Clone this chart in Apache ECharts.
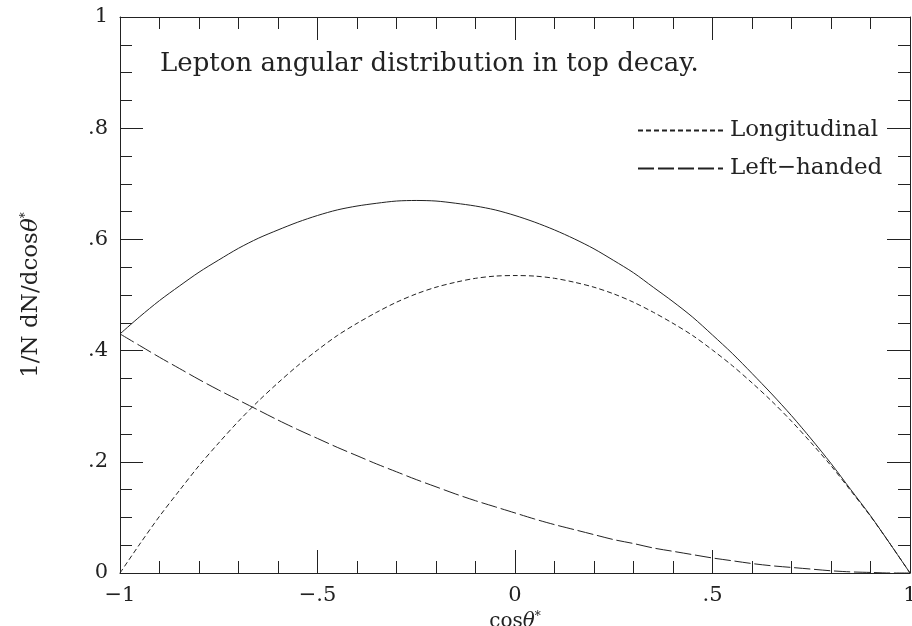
<!DOCTYPE html>
<html>
<head>
<meta charset="utf-8">
<script src="https://cdn.jsdelivr.net/npm/echarts@6/dist/echarts.min.js"></script>
<style>
  html, body { margin: 0; padding: 0; background: #fff; }
  #chart { width: 912px; height: 626px; }
</style>
</head>
<body>
<div id="chart"></div>
<script>
// cos theta* sample points
const cosTheta = [-1, -0.95, -0.9, -0.85, -0.8, -0.75, -0.7, -0.65, -0.6, -0.55, -0.5,
  -0.45, -0.4, -0.35, -0.3, -0.25, -0.2, -0.15, -0.1, -0.05, 0,
  0.05, 0.1, 0.15, 0.2, 0.25, 0.3, 0.35, 0.4, 0.45, 0.5,
  0.55, 0.6, 0.65, 0.7, 0.75, 0.8, 0.85, 0.9, 0.95, 1];
// total (solid)
const totalVals = [0.430, 0.461, 0.490, 0.516, 0.541, 0.563, 0.584, 0.602, 0.617, 0.631, 0.643,
  0.653, 0.660, 0.665, 0.669, 0.670, 0.669, 0.665, 0.660, 0.653, 0.643,
  0.631, 0.617, 0.601, 0.583, 0.562, 0.540, 0.514, 0.488, 0.460, 0.428,
  0.395, 0.359, 0.322, 0.283, 0.241, 0.197, 0.150, 0.103, 0.052, 0];
// longitudinal (short dash)
const longVals = [0, 0.052, 0.102, 0.148, 0.193, 0.234, 0.273, 0.309, 0.342, 0.373, 0.401,
  0.427, 0.449, 0.469, 0.487, 0.502, 0.514, 0.523, 0.530, 0.534, 0.535,
  0.534, 0.530, 0.523, 0.514, 0.502, 0.487, 0.469, 0.449, 0.427, 0.401,
  0.373, 0.342, 0.309, 0.273, 0.234, 0.193, 0.148, 0.102, 0.052, 0];
// left-handed (long dash)
const leftVals = [0.430, 0.409, 0.388, 0.368, 0.348, 0.329, 0.311, 0.293, 0.275, 0.258, 0.242,
  0.226, 0.211, 0.196, 0.182, 0.168, 0.155, 0.142, 0.130, 0.119, 0.108,
  0.097, 0.087, 0.078, 0.069, 0.060, 0.053, 0.045, 0.039, 0.033, 0.027,
  0.022, 0.017, 0.013, 0.010, 0.007, 0.004, 0.002, 0.001, 0.000, 0];

const xTickLabels = { '-1': '\u22121', '-0.5': '\u2212.5', '0': '0', '0.5': '.5', '1': '1' };
const yTickLabels = { '0': '0', '0.2': '.2', '0.4': '.4', '0.6': '.6', '0.8': '.8', '1': '1' };

const FONT = 'DejaVu Serif';
const INK = '#222';

const pairs = vals => cosTheta.map((x, i) => [x, vals[i]]);

const myChart = echarts.init(document.getElementById('chart'));

const axisBase = {
  type: 'value',
  axisLine: { show: true, onZero: false, lineStyle: { color: INK, width: 1 } },
  axisTick: { show: true, inside: true, length: 23, lineStyle: { color: INK } },
  minorTick: { show: true, length: 12, lineStyle: { color: INK } },
  splitLine: { show: false },
  minorSplitLine: { show: false },
};

// axis name with italic theta and superscript star
const nameRich = size => ({
  a: { fontFamily: FONT, fontSize: size, color: INK },
  t: { fontFamily: FONT, fontSize: size, fontStyle: 'italic', color: INK },
  s: { fontFamily: FONT, fontSize: 12, color: INK, verticalAlign: 'top', padding: [0, 0, 10, 0] },
});

const option = {
  backgroundColor: '#fff',
  animation: false,
  title: {
    text: 'Lepton angular distribution in top decay.',
    left: 155,
    top: 46,
    textStyle: { fontFamily: FONT, fontSize: 26, fontWeight: 'normal', color: INK },
  },
  legend: {
    orient: 'vertical',
    left: 632,
    top: 114,
    itemWidth: 85,
    itemHeight: 10,
    itemGap: 15,
    itemStyle: { opacity: 0, borderWidth: 0 },
    textStyle: { fontFamily: FONT, fontSize: 23, color: INK, padding: [0, 0, 0, 2] },
    data: ['Longitudinal', 'Left\u2212handed'],
  },
  grid: {
    left: 120,
    right: 2,
    top: 17,
    bottom: 53,
    containLabel: false,
    outerBoundsMode: 'none',
  },
  xAxis: [
    Object.assign({}, axisBase, {
      min: -1, max: 1, interval: 0.5,
      position: 'bottom',
      minorTick: Object.assign({}, axisBase.minorTick, { splitNumber: 5 }),
      axisLabel: {
        margin: 12, fontFamily: FONT, fontSize: 21, color: INK,
        formatter: v => xTickLabels[String(v)] || '',
      },
      name: '{a|cos}{t|\u03b8}{s|*}',
      nameLocation: 'middle',
      nameGap: 31,
      nameTextStyle: { rich: nameRich(20) },
    }),
    Object.assign({}, axisBase, {
      min: -1, max: 1, interval: 0.5,
      position: 'top',
      minorTick: Object.assign({}, axisBase.minorTick, { splitNumber: 5 }),
      axisLabel: { show: false },
    }),
  ],
  yAxis: [
    Object.assign({}, axisBase, {
      min: 0, max: 1, interval: 0.2,
      position: 'left',
      minorTick: Object.assign({}, axisBase.minorTick, { splitNumber: 4 }),
      axisLabel: {
        margin: 12, fontFamily: FONT, fontSize: 21, color: INK,
        formatter: v => yTickLabels[String(Math.round(v * 10) / 10)] || '',
      },
      name: '{a|1/N dN/dcos}{t|\u03b8}{s|*}',
      nameLocation: 'middle',
      nameGap: 77,
      nameTextStyle: { rich: nameRich(23) },
    }),
    Object.assign({}, axisBase, {
      min: 0, max: 1, interval: 0.2,
      position: 'right',
      minorTick: Object.assign({}, axisBase.minorTick, { splitNumber: 4 }),
      axisLabel: { show: false },
    }),
  ],
  series: [
    {
      name: 'Total',
      type: 'line',
      smooth: 0.3,
      symbol: 'none',
      lineStyle: { color: INK, width: 1, type: 'solid' },
      data: pairs(totalVals),
    },
    {
      name: 'Longitudinal',
      type: 'line',
      smooth: 0.3,
      symbol: 'none',
      lineStyle: { color: INK, width: 1, type: [5, 3] },
      itemStyle: { color: INK },
      data: pairs(longVals),
    },
    {
      name: 'Left\u2212handed',
      type: 'line',
      smooth: 0.3,
      symbol: 'none',
      lineStyle: { color: INK, width: 1, type: [16, 4] },
      itemStyle: { color: INK },
      data: pairs(leftVals),
    },
  ],
};

myChart.setOption(option);
</script>
</body>
</html>
